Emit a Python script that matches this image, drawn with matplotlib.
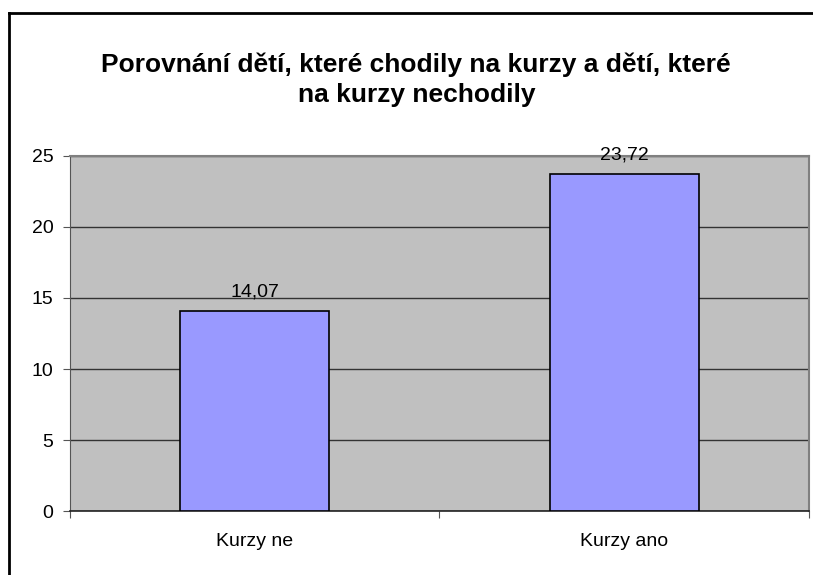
import matplotlib.pyplot as plt
from matplotlib.lines import Line2D

plt.rcParams['font.family'] = ['Liberation Sans', 'DejaVu Sans']

# data
kategorie = ['Kurzy ne', 'Kurzy ano']
hodnoty = [14.07, 23.72]
popisky = ['14,07', '23,72']
titulek = 'Porovnání dětí, které chodily na kurzy a dětí, které\nna kurzy nechodily'

fig = plt.figure(figsize=(8.13, 5.75), dpi=100)
ax = fig.add_axes([0.0861, 0.1113, 0.9089, 0.6174])

# ramecek grafu (jen horni a leva hrana jsou videt)
fig.add_artist(Line2D([8.5 / 813, 1.0], [1 - 13 / 575, 1 - 13 / 575], color='black', lw=2, transform=fig.transFigure))
fig.add_artist(Line2D([8.5 / 813, 8.5 / 813], [0.0, 1 - 13 / 575], color='black', lw=2, transform=fig.transFigure))

x = range(len(kategorie))
ax.set_facecolor('#C0C0C0')
ax.bar(x, hodnoty, width=0.403, color='#9999FF', edgecolor='black', linewidth=1.2, zorder=3)

for xi, v, lab in zip(x, hodnoty, popisky):
    ax.annotate(lab, (xi, v), xytext=(0, 8), textcoords='offset points',
                ha='center', va='bottom', fontsize=14, zorder=4)

ax.set_xlim(-0.5, 1.5)
ax.set_ylim(0, 25)
ax.set_yticks([0, 5, 10, 15, 20, 25])
ax.yaxis.grid(True, color='#333333', linewidth=1, zorder=1)
ax.set_axisbelow(True)

ax.set_xticks([-0.5, 0.5, 1.5])
ax.set_xticklabels([])
ax.set_xticks(list(x), minor=True)
ax.set_xticklabels(kategorie, minor=True, fontsize=14)
ax.tick_params(axis='x', which='major', direction='out', length=5, color='#555555')
ax.tick_params(axis='x', which='minor', length=0, pad=16)
ax.tick_params(axis='y', direction='out', length=5, color='#555555', labelsize=14, pad=7)

for s in ['top', 'right']:
    ax.spines[s].set_color('#808080')
    ax.spines[s].set_linewidth(1.5)
ax.spines['left'].set_color('#555555')
ax.spines['bottom'].set_color('#222222')
ax.spines['bottom'].set_linewidth(1.2)

fig.text(0.512, 1 - 80 / 575, titulek, ha='center', va='center', fontsize=19,
         fontweight='bold', linespacing=1.3)

fig.savefig('out.png', dpi=100)
